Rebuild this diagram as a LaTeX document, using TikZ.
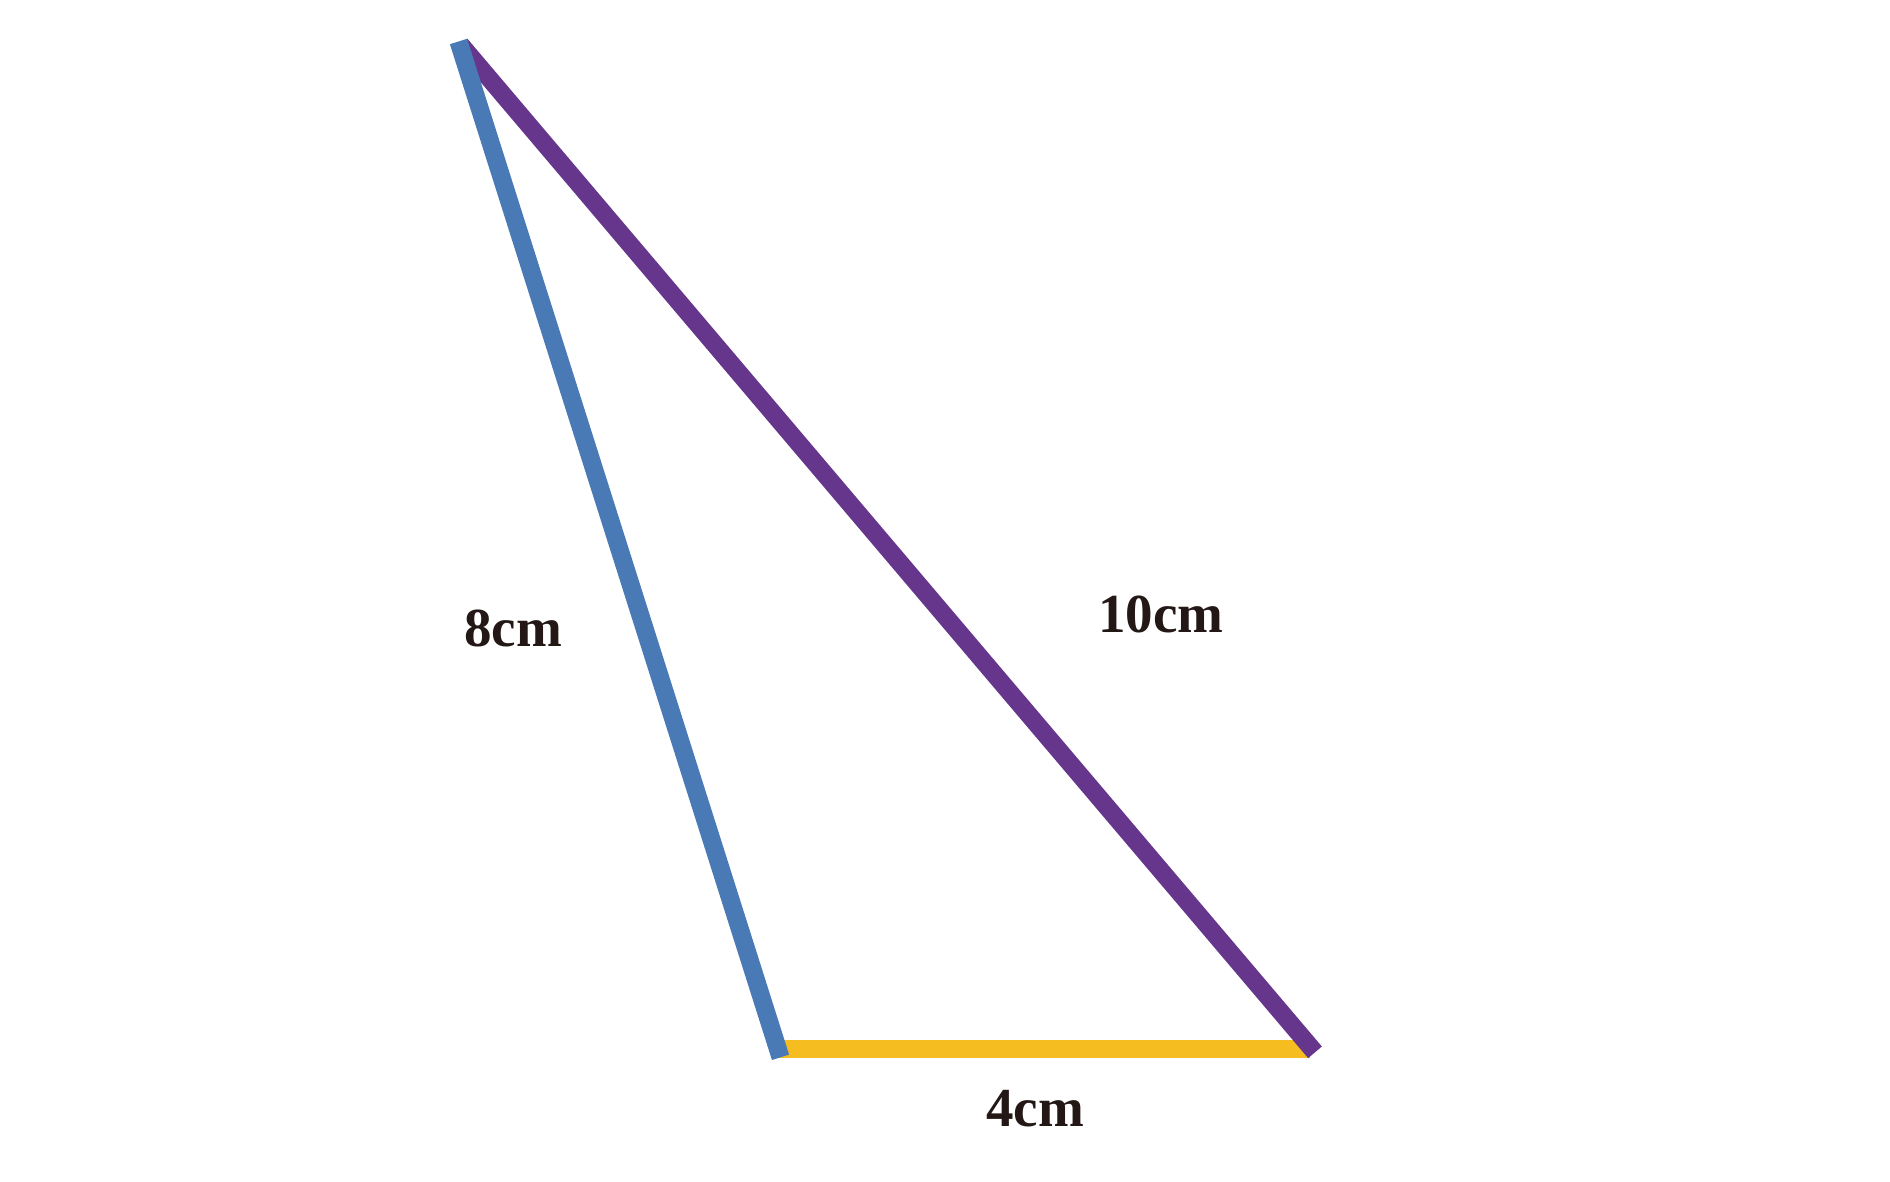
\documentclass[tikz,border=0pt]{standalone}
\usepackage{fontspec}
\setmainfont{Liberation Serif}
\definecolor{sideblue}{RGB}{74,122,181}
\definecolor{sidepurple}{RGB}{102,54,141}
\definecolor{sideyellow}{RGB}{245,189,31}
\definecolor{labeltext}{RGB}{35,24,21}
\tikzset{
  side/.style={line width=18pt, line cap=butt},
  lbl/.style={text=labeltext, font=\fontsize{55}{60}\selectfont\bfseries, anchor=base, inner sep=0pt}
}
\begin{document}
\begin{tikzpicture}[x=1pt,y=-1pt]
\useasboundingbox (0,0) rectangle (1890,1181);
\coordinate (Ab) at (458.5,41.5);
\coordinate (Ap) at (460.5,44.5);
\coordinate (B) at (780.5,1057.3);
\coordinate (Yl) at (776,1049.3);
\coordinate (Yr) at (1310,1049.3);
\coordinate (C) at (1315,1052.3);
\draw[side, sideyellow] (Yl) -- (Yr);
\draw[side, sidepurple] (Ap) -- (C);
\draw[side, sideblue] (Ab) -- (B);
\node[lbl] (l8) at (513,646) {8cm};
\node[lbl] (l10) at (1161,632) {10cm};
\node[lbl] (l4) at (1035,1126) {4cm};
\end{tikzpicture}
\end{document}
